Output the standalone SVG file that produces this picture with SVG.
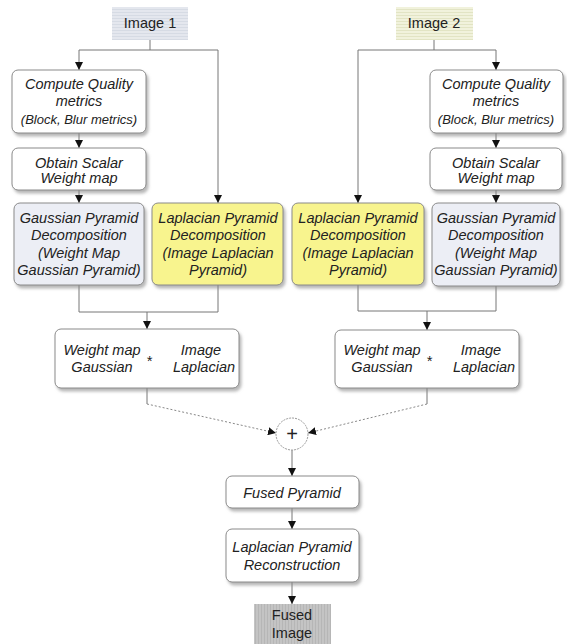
<svg xmlns="http://www.w3.org/2000/svg" width="567" height="644" viewBox="0 0 567 644">
<defs>
<marker id="arr" viewBox="0 0 10 10" refX="10" refY="5" markerWidth="8" markerHeight="8" markerUnits="userSpaceOnUse" orient="auto">
<path d="M0,0 L10,5 L0,10 z" fill="#111"/>
</marker>
<filter id="sh" x="-10%" y="-10%" width="130%" height="140%">
<feDropShadow dx="2" dy="3" stdDeviation="1.5" flood-color="#888" flood-opacity="0.6"/>
</filter>
<pattern id="hstripe" width="4" height="3" patternUnits="userSpaceOnUse">
<rect width="4" height="3" fill="#e4e7ee"/>
<rect width="4" height="1" fill="#d6dbe4"/>
</pattern>
<pattern id="hstripe2" width="4" height="3" patternUnits="userSpaceOnUse">
<rect width="4" height="3" fill="#f1f2dc"/>
<rect width="4" height="1" fill="#e2e4c4"/>
</pattern>
<pattern id="vstripe" width="3" height="4" patternUnits="userSpaceOnUse">
<rect width="3" height="4" fill="#c4c4c4"/>
<rect width="1" height="4" fill="#b6b6b6"/>
</pattern>
</defs>
<style>
.box{fill:#ffffff;stroke:#8a8a8a;stroke-width:1;filter:url(#sh)}
.gau{fill:#eceef5}
.lap{fill:#f8f48e}
.t{font-family:"Liberation Sans",Arial,sans-serif;font-size:14.5px;font-style:italic;fill:#222;text-anchor:middle}
.s{font-size:13px}
.r{font-family:"Liberation Sans",Arial,sans-serif;font-size:14.5px;fill:#222;text-anchor:middle}
.c{fill:none;stroke:#777;stroke-width:1}
.d{fill:none;stroke:#888;stroke-width:1;stroke-dasharray:2,2}
</style>

<g id="connectors">
<path class="c" d="M150,40 V50 M79,50 H218"/>
<path class="c" d="M79,50 V70" marker-end="url(#arr)"/>
<path class="c" d="M218,50 V203" marker-end="url(#arr)"/>
<path class="c" d="M79,133 V148" marker-end="url(#arr)"/>
<path class="c" d="M79,190 V203" marker-end="url(#arr)"/>
<path class="c" d="M79,285 V312 H218 M218,285 V312"/>
<path class="c" d="M147,312 V329" marker-end="url(#arr)"/>
<path class="c" d="M434,40 V50 M358,50 H496"/>
<path class="c" d="M358,50 V203" marker-end="url(#arr)"/>
<path class="c" d="M496,50 V70" marker-end="url(#arr)"/>
<path class="c" d="M496,133 V148" marker-end="url(#arr)"/>
<path class="c" d="M496,190 V203" marker-end="url(#arr)"/>
<path class="c" d="M358,285 V311 H496 M496,286 V311"/>
<path class="c" d="M427,311 V330" marker-end="url(#arr)"/>
<path class="c" d="M147,388 V404"/>
<path class="d" d="M147,404 L276,433" marker-end="url(#arr)"/>
<path class="c" d="M427,388 V404"/>
<path class="d" d="M427,404 L308,433" marker-end="url(#arr)"/>
<path class="c" d="M292,450 V476" marker-end="url(#arr)"/>
<path class="c" d="M292,508 V529" marker-end="url(#arr)"/>
<path class="c" d="M292,582 V604" marker-end="url(#arr)"/>
</g>

<g id="image1">
<rect x="112" y="7" width="76" height="33" fill="url(#hstripe)"/>
<text class="r" x="150" y="28">Image 1</text>
</g>
<g id="image2">
<rect x="396" y="7" width="77" height="33" fill="url(#hstripe2)"/>
<text class="r" x="434" y="28">Image 2</text>
</g>

<g id="computeL">
<rect class="box" x="12" y="70" width="134" height="63" rx="6"/>
<text class="t" x="79" y="89">Compute Quality</text>
<text class="t" x="79" y="106">metrics</text>
<text class="t s" x="79" y="124">(Block, Blur metrics)</text>
</g>
<g id="obtainL">
<rect class="box" x="12" y="148" width="134" height="42" rx="6"/>
<text class="t" x="79" y="168">Obtain Scalar</text>
<text class="t" x="79" y="183">Weight map</text>
</g>
<g id="gaussL">
<rect class="box gau" x="14" y="203" width="130" height="82" rx="6"/>
<text class="t" x="79" y="223">Gaussian Pyramid</text>
<text class="t" x="79" y="240">Decomposition</text>
<text class="t" x="79" y="258">(Weight Map</text>
<text class="t" x="79" y="275">Gaussian Pyramid)</text>
</g>
<g id="lapL">
<rect class="box lap" x="152" y="203" width="131" height="82" rx="6"/>
<text class="t" x="218" y="223">Laplacian Pyramid</text>
<text class="t" x="218" y="240">Decomposition</text>
<text class="t" x="218" y="258">(Image Laplacian</text>
<text class="t" x="218" y="275">Pyramid)</text>
</g>
<g id="weightL">
<rect class="box" x="55" y="329" width="184" height="59" rx="6"/>
<text class="t" x="102" y="355">Weight map</text>
<text class="t" x="102" y="372">Gaussian</text>
<text class="t" x="149" y="366">*</text>
<text class="t" x="201" y="355">Image</text>
<text class="t" x="204" y="372">Laplacian</text>
</g>

<g id="computeR">
<rect class="box" x="430" y="70" width="133" height="63" rx="6"/>
<text class="t" x="496" y="89">Compute Quality</text>
<text class="t" x="496" y="106">metrics</text>
<text class="t s" x="496" y="124">(Block, Blur metrics)</text>
</g>
<g id="obtainR">
<rect class="box" x="430" y="148" width="132" height="42" rx="6"/>
<text class="t" x="496" y="168">Obtain Scalar</text>
<text class="t" x="496" y="183">Weight map</text>
</g>
<g id="lapR">
<rect class="box lap" x="292" y="203" width="132" height="82" rx="6"/>
<text class="t" x="358" y="223">Laplacian Pyramid</text>
<text class="t" x="358" y="240">Decomposition</text>
<text class="t" x="358" y="258">(Image Laplacian</text>
<text class="t" x="358" y="275">Pyramid)</text>
</g>
<g id="gaussR">
<rect class="box gau" x="432" y="203" width="128" height="83" rx="6"/>
<text class="t" x="496" y="223">Gaussian Pyramid</text>
<text class="t" x="496" y="240">Decomposition</text>
<text class="t" x="496" y="258">(Weight Map</text>
<text class="t" x="496" y="275">Gaussian Pyramid)</text>
</g>
<g id="weightR">
<rect class="box" x="335" y="330" width="184" height="58" rx="6"/>
<text class="t" x="382" y="355">Weight map</text>
<text class="t" x="382" y="372">Gaussian</text>
<text class="t" x="429" y="366">*</text>
<text class="t" x="481" y="355">Image</text>
<text class="t" x="484" y="372">Laplacian</text>
</g>

<g id="sum">
<circle cx="292" cy="434" r="16" fill="#fff" stroke="#999" stroke-width="1" stroke-dasharray="2,1"/>
<text class="r" x="292" y="441" style="font-size:20px">+</text>
</g>
<g id="fusedPyramid">
<rect class="box" x="226" y="476" width="133" height="32" rx="6"/>
<text class="t" x="292" y="498">Fused Pyramid</text>
</g>
<g id="reconstruction">
<rect class="box" x="226" y="529" width="133" height="53" rx="6"/>
<text class="t" x="292" y="552">Laplacian Pyramid</text>
<text class="t" x="292" y="570">Reconstruction</text>
</g>
<g id="fusedImage">
<rect x="254" y="604" width="77" height="40" fill="url(#vstripe)"/>
<text class="r" x="292" y="620">Fused</text>
<text class="r" x="292" y="638">Image</text>
</g>
</svg>
